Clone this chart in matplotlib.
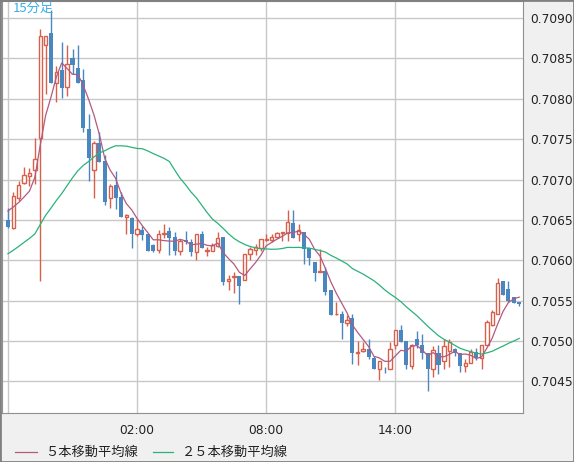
import matplotlib
matplotlib.use("Agg")
from matplotlib import pyplot as plt
import numpy as np
import pandas as pd

# 15-minute candles starting 20:00
opens = [0.70650, 0.70640, 0.70677, 0.70696, 0.70704, 0.70712, 0.70751, 0.70866, 0.70881, 0.70819,
         0.70835, 0.70814, 0.70850, 0.70838, 0.70823, 0.70763, 0.70712, 0.70745, 0.70723, 0.70677,
         0.70693, 0.70678, 0.70654, 0.70652, 0.70633, 0.70638, 0.70633, 0.70619, 0.70613, 0.70633,
         0.70636, 0.70629, 0.70612, 0.70625, 0.70623, 0.70610, 0.70632, 0.70612, 0.70612, 0.70618,
         0.70629, 0.70574, 0.70579, 0.70581, 0.70576, 0.70608, 0.70613, 0.70615, 0.70625, 0.70625,
         0.70629, 0.70634, 0.70634, 0.70646, 0.70633, 0.70635, 0.70615, 0.70598, 0.70586, 0.70587,
         0.70563, 0.70533, 0.70533, 0.70523, 0.70529, 0.70485, 0.70488, 0.70490, 0.70479, 0.70465,
         0.70466, 0.70465, 0.70495, 0.70514, 0.70500, 0.70469, 0.70502, 0.70495, 0.70485, 0.70465,
         0.70485, 0.70475, 0.70488, 0.70490, 0.70485, 0.70469, 0.70473, 0.70486, 0.70479, 0.70495,
         0.70520, 0.70534, 0.70575, 0.70564, 0.70554, 0.70548]
highs = [0.70665, 0.70684, 0.70698, 0.70715, 0.70714, 0.70751, 0.70886, 0.70878, 0.70910, 0.70841,
         0.70870, 0.70866, 0.70862, 0.70867, 0.70837, 0.70781, 0.70748, 0.70759, 0.70730, 0.70694,
         0.70711, 0.70684, 0.70657, 0.70654, 0.70651, 0.70642, 0.70633, 0.70620, 0.70638, 0.70645,
         0.70641, 0.70635, 0.70626, 0.70636, 0.70626, 0.70632, 0.70636, 0.70616, 0.70621, 0.70635,
         0.70629, 0.70582, 0.70585, 0.70581, 0.70608, 0.70617, 0.70620, 0.70626, 0.70632, 0.70632,
         0.70635, 0.70635, 0.70662, 0.70662, 0.70645, 0.70635, 0.70615, 0.70598, 0.70614, 0.70592,
         0.70563, 0.70549, 0.70537, 0.70532, 0.70534, 0.70500, 0.70499, 0.70503, 0.70481, 0.70475,
         0.70468, 0.70499, 0.70514, 0.70520, 0.70500, 0.70497, 0.70513, 0.70509, 0.70485, 0.70494,
         0.70495, 0.70503, 0.70503, 0.70492, 0.70485, 0.70478, 0.70490, 0.70492, 0.70495, 0.70526,
         0.70538, 0.70578, 0.70575, 0.70574, 0.70555, 0.70548]
lows = [0.70640, 0.70639, 0.70673, 0.70694, 0.70692, 0.70694, 0.70575, 0.70806, 0.70820, 0.70796,
        0.70801, 0.70803, 0.70831, 0.70820, 0.70759, 0.70698, 0.70677, 0.70722, 0.70668, 0.70665,
        0.70663, 0.70654, 0.70633, 0.70615, 0.70630, 0.70625, 0.70612, 0.70610, 0.70609, 0.70628,
        0.70606, 0.70606, 0.70607, 0.70620, 0.70605, 0.70600, 0.70615, 0.70605, 0.70611, 0.70617,
        0.70570, 0.70563, 0.70559, 0.70546, 0.70576, 0.70601, 0.70607, 0.70612, 0.70624, 0.70623,
        0.70628, 0.70624, 0.70624, 0.70628, 0.70624, 0.70595, 0.70594, 0.70574, 0.70586, 0.70557,
        0.70532, 0.70532, 0.70503, 0.70519, 0.70472, 0.70470, 0.70486, 0.70478, 0.70465, 0.70452,
        0.70461, 0.70465, 0.70490, 0.70499, 0.70465, 0.70465, 0.70492, 0.70478, 0.70438, 0.70456,
        0.70459, 0.70465, 0.70468, 0.70482, 0.70462, 0.70462, 0.70473, 0.70477, 0.70465, 0.70495,
        0.70519, 0.70534, 0.70557, 0.70549, 0.70547, 0.70544]
closes = [0.70641, 0.70680, 0.70693, 0.70706, 0.70708, 0.70726, 0.70878, 0.70878, 0.70820, 0.70833,
          0.70813, 0.70843, 0.70842, 0.70820, 0.70764, 0.70727, 0.70745, 0.70722, 0.70672, 0.70692,
          0.70677, 0.70654, 0.70656, 0.70633, 0.70639, 0.70631, 0.70612, 0.70612, 0.70633, 0.70634,
          0.70628, 0.70611, 0.70624, 0.70623, 0.70610, 0.70632, 0.70615, 0.70613, 0.70619, 0.70628,
          0.70573, 0.70577, 0.70580, 0.70568, 0.70608, 0.70614, 0.70616, 0.70626, 0.70626, 0.70629,
          0.70634, 0.70634, 0.70647, 0.70628, 0.70638, 0.70614, 0.70603, 0.70584, 0.70587, 0.70561,
          0.70532, 0.70533, 0.70523, 0.70526, 0.70485, 0.70486, 0.70490, 0.70480, 0.70465, 0.70475,
          0.70465, 0.70490, 0.70514, 0.70499, 0.70470, 0.70495, 0.70495, 0.70485, 0.70465, 0.70489,
          0.70470, 0.70494, 0.70499, 0.70485, 0.70469, 0.70473, 0.70486, 0.70479, 0.70495, 0.70524,
          0.70536, 0.70572, 0.70557, 0.70550, 0.70547, 0.70546]
# closes before the visible window (needed for the moving averages)
prior_closes = [0.70570, 0.70575, 0.70580, 0.70585, 0.70590, 0.70588, 0.70592, 0.70595, 0.70598, 0.70596,
                0.70600, 0.70598, 0.70602, 0.70600, 0.70603, 0.70605, 0.70600, 0.70604, 0.70606, 0.70610,
                0.70655, 0.70665, 0.70672, 0.70672]
tick_pos = [24, 48, 72]
tick_labels = ["02:00", "08:00", "14:00"]

allc = pd.Series(prior_closes + closes)
ma5 = allc.rolling(5).mean().values[len(prior_closes):]
ma25 = allc.rolling(25).mean().values[len(prior_closes):]

o, h, l, c = map(np.array, (opens, highs, lows, closes))
x = np.arange(len(o))
up = c >= o
red = "#d8604a"
blue = "#4a86bf"
jp = ["Noto Sans CJK JP", "DejaVu Sans"]

fig = plt.figure(figsize=(5.74, 4.62), dpi=100, facecolor="#f0f0f0")
ax = fig.add_axes([2 / 574, 1 - 413 / 462, 521 / 574, 412 / 462])
ax.set_facecolor("white")

ax.vlines(x[up], l[up], h[up], color=red, lw=1, zorder=3)
ax.vlines(x[~up], l[~up], h[~up], color=blue, lw=1, zorder=3)
body = np.maximum(np.abs(c - o), 0.000008)
ax.bar(x[up], body[up], bottom=o[up], width=0.62, facecolor="white", edgecolor=red, lw=1, zorder=4)
ax.bar(x[~up], body[~up], bottom=c[~up], width=0.75, color=blue, zorder=4)

ax.plot(x, ma5, color="#b25a80", lw=0.9, zorder=5)
ax.plot(x, ma25, color="#2bb27a", lw=0.9, zorder=5)

ax.set_xlim(-1.1, 95.7)
ax.set_ylim(0.70411, 0.70921)
ax.set_xticks([0] + tick_pos)
ax.set_xticklabels([""] + tick_labels)
ax.set_yticks(np.arange(0.7045, 0.70905, 0.0005))
ax.yaxis.set_major_formatter(matplotlib.ticker.FormatStrFormatter("%.4f"))
ax.yaxis.tick_right()
ax.tick_params(length=0, labelsize=8.8, colors="#222222")
ax.tick_params(axis="y", pad=5)
ax.tick_params(axis="x", pad=8)
ax.grid(True, color="#c8c8c8", lw=1)
for s in ax.spines.values():
    s.set_color("#909090")

ax.text(0.02, 0.997, "15分足", transform=ax.transAxes, va="top", ha="left",
        fontsize=9.5, color="#3ab0e6", family=jp)

fig.add_artist(plt.Line2D([15 / 574, 37 / 574], [10 / 462, 10 / 462], color="#b25a80", lw=0.9))
fig.text(45 / 574, 10 / 462, "５本移動平均線", va="center", fontsize=9.5, family=jp, color="#222222")
fig.add_artist(plt.Line2D([153 / 574, 173 / 574], [10 / 462, 10 / 462], color="#2bb27a", lw=0.9))
fig.text(182 / 574, 10 / 462, "２５本移動平均線", va="center", fontsize=9.5, family=jp, color="#222222")
fig.add_artist(plt.Rectangle((0, 0), 1, 1, transform=fig.transFigure, fill=False,
                             edgecolor="#808080", lw=2))

fig.savefig("out.png", dpi=100, facecolor=fig.get_facecolor())
